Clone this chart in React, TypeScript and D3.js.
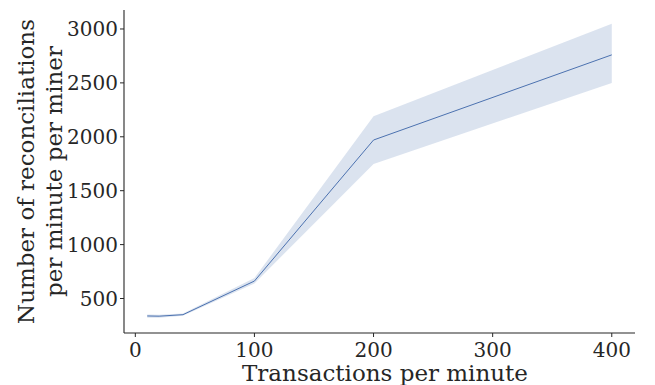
import React from "react";
import * as d3 from "d3";

const txRate = [10, 20, 40, 100, 200, 400];
const reconciliations = [338, 336, 350, 662, 1970, 2760];
const ciLow = [322, 322, 340, 640, 1748, 2500];
const ciHigh = [352, 350, 360, 690, 2190, 3048];
const xTicks = [0, 100, 200, 300, 400];
const yTicks = [500, 1000, 1500, 2000, 2500, 3000];

const W = 655;
const H = 385;
const m = { left: 124, right: 20, top: 10, bottom: 52 };
const font = "DejaVu Serif, serif";
const ink = "#262626";

export default function App() {
  const x = d3.scaleLinear().domain([-9.5, 419.5]).range([m.left, W - m.right]);
  const y = d3.scaleLinear().domain([180, 3176]).range([H - m.bottom, m.top]);

  const pts = txRate.map((t, i) => ({ t, v: reconciliations[i], lo: ciLow[i], hi: ciHigh[i] }));
  const line = d3.line<typeof pts[0]>().x(d => x(d.t)).y(d => y(d.v));
  const band = d3
    .area<typeof pts[0]>()
    .x(d => x(d.t))
    .y0(d => y(d.lo))
    .y1(d => y(d.hi));

  const bottom = H - m.bottom;

  return (
    <svg width={W} height={H} style={{ position: "absolute", left: 0, top: 0 }}>
      <path d={band(pts) || ""} fill="#4c72b0" fillOpacity={0.2} stroke="none" />
      <path d={line(pts) || ""} fill="none" stroke="#4c72b0" strokeWidth={1} />

      <line x1={m.left} x2={m.left} y1={m.top} y2={bottom} stroke={ink} strokeWidth={1.1} />
      <line x1={m.left} x2={W - m.right} y1={bottom} y2={bottom} stroke={ink} strokeWidth={1.1} />

      {xTicks.map(t => (
        <g key={t} transform={`translate(${x(t)},${bottom})`}>
          <line y2={4} stroke={ink} strokeWidth={1} />
          <text y={24} textAnchor="middle" fontFamily={font} fontSize={20} fill={ink}>
            {t}
          </text>
        </g>
      ))}
      {yTicks.map(t => (
        <g key={t} transform={`translate(${m.left},${y(t)})`}>
          <line x2={-4} stroke={ink} strokeWidth={1} />
          <text x={-6} dy="0.36em" textAnchor="end" fontFamily={font} fontSize={20} fill={ink}>
            {t}
          </text>
        </g>
      ))}

      <text x={385} y={381} textAnchor="middle" fontFamily={font} fontSize={23} fill={ink}>
        Transactions per minute
      </text>
      <g transform={`translate(0,${(m.top + bottom) / 2}) rotate(-90)`}>
        <text x={0} y={34} textAnchor="middle" fontFamily={font} fontSize={23} fill={ink}>
          Number of reconciliations
        </text>
        <text x={0} y={62} textAnchor="middle" fontFamily={font} fontSize={23} fill={ink}>
          per minute per miner
        </text>
      </g>
    </svg>
  );
}
